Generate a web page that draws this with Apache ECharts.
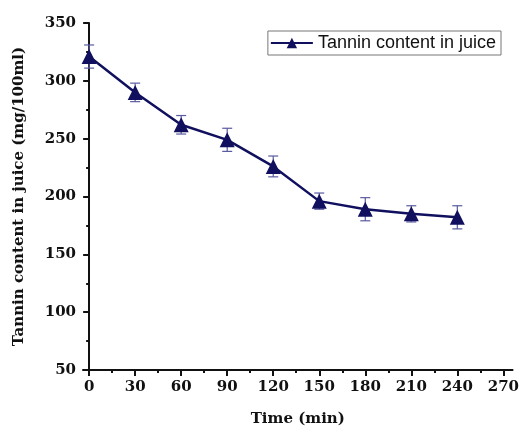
<!DOCTYPE html>
<html>
<head>
<meta charset="utf-8">
<script src="https://cdn.jsdelivr.net/npm/echarts@6/dist/echarts.min.js"></script>
<style>
  html, body { margin: 0; padding: 0; background: #fff; }
  #chart { width: 522px; height: 432px; }
</style>
</head>
<body>
<div id="chart"></div>
<script>
// time (min)
var times = [0, 30, 60, 90, 120, 150, 180, 210, 240];
// tannin content (mg/100ml)
var tannin = [321, 290, 262, 249, 226, 196, 189, 185, 182];
// error (+/-)
var errors = [10, 8, 8, 10, 9, 7, 10, 7, 10];
var xTicks = [0, 30, 60, 90, 120, 150, 180, 210, 240, 270];
var xMinorTicks = [15, 45, 75, 105, 135, 165, 195, 225, 255];

var navy = '#10105e';
var serif = '"DejaVu Serif", "Liberation Serif", serif';

var lineData = times.map(function (t, i) { return [t, tannin[i]]; });
var errData = times.map(function (t, i) { return [t, tannin[i] - errors[i], tannin[i] + errors[i]]; });

var chart = echarts.init(document.getElementById('chart'));

chart.setOption({
  animation: false,
  backgroundColor: '#fff',
  grid: { left: 83, right: 7, top: 23, bottom: 61 },
  legend: {
    right: 21,
    top: 31,
    padding: [3, 5, 3, 2],
    borderColor: '#777',
    borderWidth: 1,
    itemWidth: 42,
    itemHeight: 13,
    itemGap: 4,
    data: ['Tannin content in juice'],
    textStyle: { fontFamily: '"Liberation Sans", Arial, sans-serif', fontSize: 18, color: '#111' }
  },
  xAxis: [{
    type: 'value',
    min: -4,
    max: 276,
    name: 'Time (min)',
    nameLocation: 'middle',
    nameGap: 42,
    nameTextStyle: { fontFamily: serif, fontWeight: 'bold', fontSize: 15, color: '#111' },
    axisLine: { onZero: false, lineStyle: { color: '#111', width: 2 } },
    axisTick: { show: true, inside: false, length: 6, lineStyle: { color: '#111', width: 2 }, customValues: xTicks },
    axisLabel: { fontFamily: serif, fontWeight: 'bold', fontSize: 15, color: '#111', margin: 10, customValues: xTicks },
    splitLine: { show: false }
  }, {
    type: 'value',
    position: 'bottom',
    min: -4,
    max: 276,
    axisLine: { show: false },
    axisTick: { show: true, length: 3, lineStyle: { color: '#111', width: 2 }, customValues: xMinorTicks },
    axisLabel: { show: false },
    splitLine: { show: false }
  }],
  yAxis: {
    type: 'value',
    min: 50,
    max: 350,
    interval: 50,
    name: 'Tannin content in juice (mg/100ml)',
    nameLocation: 'middle',
    nameGap: 56,
    nameTextStyle: { fontFamily: serif, fontWeight: 'bold', fontSize: 15, color: '#111' },
    axisLine: { show: true, lineStyle: { color: '#111', width: 2 } },
    axisTick: { show: true, length: 6, lineStyle: { color: '#111', width: 2 } },
    minorTick: { show: true, splitNumber: 2, length: 3, lineStyle: { color: '#111', width: 2 } },
    axisLabel: { fontFamily: serif, fontWeight: 'bold', fontSize: 15, color: '#111', margin: 7 },
    splitLine: { show: false }
  },
  series: [{
    type: 'custom',
    name: 'err',
    xAxisIndex: 0,
    data: errData,
    z: 1,
    renderItem: function (params, api) {
      var x = api.value(0);
      var lo = api.coord([x, api.value(1)]);
      var hi = api.coord([x, api.value(2)]);
      var w = 5;
      var style = { stroke: '#5a5aa0', lineWidth: 1.2 };
      return {
        type: 'group',
        children: [
          { type: 'line', shape: { x1: lo[0], y1: lo[1], x2: hi[0], y2: hi[1] }, style: style },
          { type: 'line', shape: { x1: lo[0] - w, y1: lo[1], x2: lo[0] + w, y2: lo[1] }, style: style },
          { type: 'line', shape: { x1: hi[0] - w, y1: hi[1], x2: hi[0] + w, y2: hi[1] }, style: style }
        ]
      };
    }
  }, {
    type: 'line',
    name: 'Tannin content in juice',
    xAxisIndex: 0,
    data: lineData,
    z: 3,
    symbol: 'triangle',
    symbolSize: 15,
    lineStyle: { color: navy, width: 2.5 },
    itemStyle: { color: navy },
    emphasis: { disabled: true }
  }]
});
</script>
</body>
</html>
